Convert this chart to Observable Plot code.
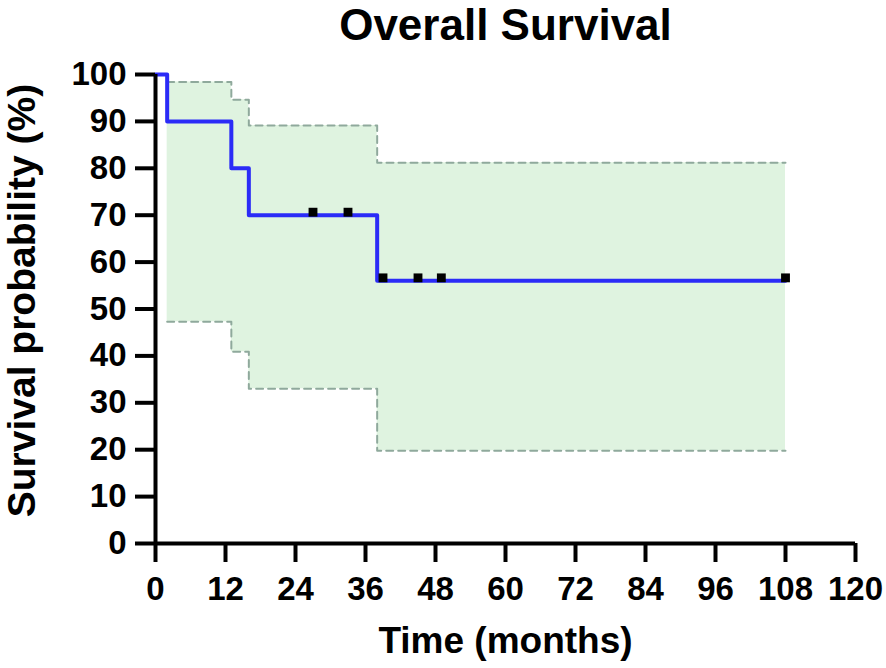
<!DOCTYPE html>
<html>
<head>
<meta charset="utf-8">
<script src="https://cdn.jsdelivr.net/npm/d3@7"></script>
<script src="https://cdn.jsdelivr.net/npm/@observablehq/plot@0.6"></script>
<style>
  html, body { margin: 0; padding: 0; background: #fff; }
  #chart { width: 886px; height: 668px; }
</style>
</head>
<body>
<div id="chart"></div>
<script>
// Kaplan–Meier step curve
const kmTime = [0, 2, 13, 16, 38, 108];
const kmSurv = [100, 90, 80, 70, 56, 56];
// 95% confidence band
const ciTime  = [2, 13, 16, 38, 108];
const ciUpper = [98.4, 94.6, 89.1, 81.2, 81.2];
const ciLower = [47.3, 40.9, 33.0, 19.8, 19.8];
// Censored observations
const censorTime = [27, 33, 39, 45, 49, 108];
const censorSurv = [70, 70, 56, 56, 56, 56];
// Axis ticks
const xTicks = [0, 12, 24, 36, 48, 60, 72, 84, 96, 108, 120];
const yTicks = [0, 10, 20, 30, 40, 50, 60, 70, 80, 90, 100];
const title = "Overall Survival";
const xLabel = "Time (months)";
const yLabel = "Survival probability (%)";

const km = kmTime.map((t, i) => ({t, s: kmSurv[i]}));
const ci = ciTime.map((t, i) => ({t, lo: ciLower[i], hi: ciUpper[i]}));
const cens = censorTime.map((t, i) => ({t, s: censorSurv[i]}));

const font = "'Liberation Sans', Arial, Helvetica, sans-serif";

const chart = Plot.plot({
  width: 886,
  height: 668,
  marginLeft: 155,
  marginRight: 31,
  marginTop: 74,
  marginBottom: 125,
  style: {fontFamily: font, fontWeight: "bold", background: "#fff", color: "#000"},
  x: {domain: [0, 120]},
  y: {domain: [0, 100]},
  marks: [
    Plot.areaY(ci, {x: "t", y1: "lo", y2: "hi", curve: "step-after", fill: "#dff3e0"}),
    Plot.line(ci, {x: "t", y: "hi", curve: "step-after", stroke: "#8fa99c", strokeWidth: 2, strokeDasharray: "7,5"}),
    Plot.line(ci, {x: "t", y: "lo", curve: "step-after", stroke: "#8fa99c", strokeWidth: 2, strokeDasharray: "7,5"}),
    Plot.line(km, {x: "t", y: "s", curve: "step-after", stroke: "#2b2bf7", strokeWidth: 4}),
    Plot.dot(cens, {x: "t", y: "s", symbol: "square", r: 5, fill: "#000", dy: -3}),
    Plot.axisX({ticks: xTicks, tickSize: 19, tickPadding: 14, fontSize: 33, fontWeight: "bold", strokeWidth: 4, label: null, tickFormat: d => String(d)}),
    Plot.axisY({ticks: yTicks, tickSize: 20, tickPadding: 9, fontSize: 33, fontWeight: "bold", strokeWidth: 4, label: null, tickFormat: d => String(d)}),
    Plot.ruleX([0], {strokeWidth: 4, stroke: "#000"}),
    Plot.ruleY([0], {strokeWidth: 4, stroke: "#000"}),
    Plot.text([title], {frameAnchor: "top", lineAnchor: "middle", dy: -49, fontSize: 44, fontWeight: "bold", fill: "#000"}),
    Plot.text([xLabel], {frameAnchor: "bottom", lineAnchor: "middle", dy: 98, fontSize: 37, fontWeight: "bold", fill: "#000"}),
    Plot.text([yLabel], {y: [51.8], frameAnchor: "left", textAnchor: "middle", lineAnchor: "middle", dx: -133, rotate: -90, fontSize: 39, fontWeight: "bold", fill: "#000"})
  ]
});
document.getElementById("chart").appendChild(chart);
</script>
</body>
</html>
